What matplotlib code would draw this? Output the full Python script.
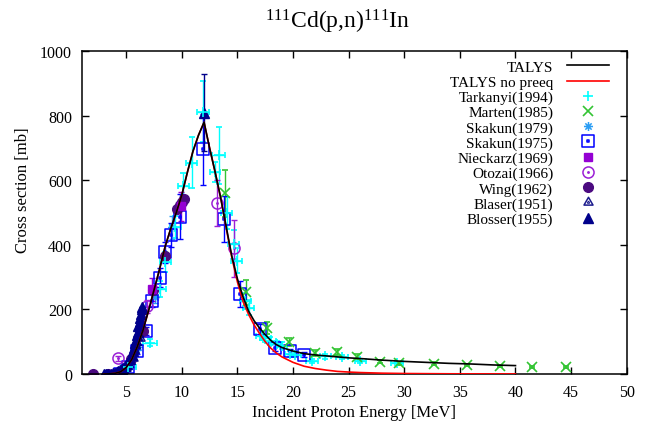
import matplotlib
matplotlib.use("Agg")
import matplotlib.pyplot as plt
from matplotlib.path import Path
import numpy as np

plt.rcParams['font.family'] = ['Liberation Serif', 'DejaVu Serif']
plt.rcParams['mathtext.fontset'] = 'custom'
plt.rcParams['mathtext.rm'] = 'Liberation Serif'
plt.rcParams['mathtext.it'] = 'Liberation Serif:italic'

# ---------------- data ----------------
talys_e = [3, 3.5, 4, 4.5, 5, 5.5, 6, 6.5, 7, 7.5, 8, 8.5, 9, 9.5, 10, 10.5, 11, 11.5, 12,
           12.5, 13, 13.5, 14, 14.5, 15, 15.5, 16, 16.5, 17, 17.5, 18, 18.5, 19, 20, 21, 22,
           23, 24, 25, 26, 28, 30, 32, 34, 36, 38, 40]
talys_xs = [0, 0.5, 2, 7, 20, 45, 85, 135, 195, 260, 325, 395, 450, 500, 555, 625, 690, 740, 780,
            700, 625, 545, 455, 365, 295, 240, 195, 165, 142, 122, 104, 91, 82, 71, 63, 59,
            56, 53, 50, 48, 43, 39, 36, 33, 31, 28, 26]
nopre_xs = [0, 0.5, 2, 7, 20, 45, 85, 135, 195, 260, 325, 395, 450, 500, 555, 625, 690, 740, 780,
            700, 625, 545, 450, 360, 285, 225, 185, 152, 125, 100, 80, 65, 53, 36, 24, 17,
            12, 8, 6, 4.5, 2.5, 1.5, 1.0, 0.6, 0.4, 0.3, 0.2]

tark_e = [5.2, 7.15, 8.05, 8.5, 9.4, 10.15, 10.9, 11.9, 13.0, 13.3, 14.05, 14.65, 14.95, 15.7,
          16.0, 17.2, 17.5, 17.95, 18.55, 19.0, 19.75, 20.2, 21.7, 22.9, 24.4, 26.05, 29.35]
tark_xs = [21, 97, 263, 347, 455, 583, 655, 813, 626, 678, 498, 402, 351, 227,
           206, 119, 110, 103, 93, 88, 62, 60, 41, 55, 52, 39, 33]
tark_de = [0.7, 0.65, 0.5, 0.5, 0.5, 0.5, 0.5, 0.5, 0.45, 0.6, 0.5, 0.5, 0.5, 0.5,
           0.5, 0.5, 0.5, 0.5, 0.5, 0.5, 0.5, 0.5, 0.5, 0.5, 0.5, 0.5, 0.5]
tark_dxs = [5, 10, 25, 30, 35, 40, 78, 95, 30, 88, 50, 45, 38, 25,
            22, 14, 12, 12, 10, 10, 8, 8, 6, 7, 6, 5, 5]

mart_e = [13.85, 15.75, 17.7, 19.6, 22.0, 23.95, 25.75, 27.85, 29.5, 32.65, 35.65, 38.65, 41.5, 44.5]
mart_xs = [560, 253, 142, 98, 66, 69, 54, 38, 33, 32, 28, 24, 23, 23]
mart_dxs = [73, 38, 18, 12, 9, 9, 7, 5, 5, 4, 4, 3, 3, 3]

sk79_e = [6.1, 7.6, 9.1]
sk79_xs = [83, 240, 454]
sk79_dxs = [8, 20, 35]

sk75_e = [4.4, 5.2, 6.0, 6.8, 7.3, 8.0, 8.5, 9.0, 9.8, 11.9, 13.75, 15.25, 17.05, 18.4, 19.7, 20.95]
sk75_xs = [0, 22, 70, 134, 227, 299, 377, 430, 488, 697, 480, 248, 139, 82, 70, 60]
sk75_dxs = [2, 5, 8, 12, 20, 28, 32, 38, 70, 110, 72, 39, 15, 10, 8, 7]

niec_e = [7.3, 9.9]
niec_xs = [262, 520]
niec_dxs = [36, 45]

otoz_e = [4.3, 6.85, 13.15, 14.65]
otoz_xs = [49, 210, 530, 390]
otoz_dxs = [8, 20, 70, 88]

wing_e = [2.0, 3.4, 5.4, 6.5, 7.45, 8.5, 9.55, 9.8, 10.0, 10.2]
wing_xs = [0, 0, 48, 134, 261, 366, 511, 523, 533, 542]

blas_e = [5.0, 5.6, 6.2]
blas_xs = [18, 50, 110]

blos_e = [3.0, 3.2, 3.4, 3.6, 3.8, 4.0, 4.15, 4.3, 4.45, 4.6, 4.75, 4.9, 5.05, 5.2, 5.35, 5.5,
          5.6, 5.7, 5.8, 5.9, 6.0, 6.05, 6.1, 6.2, 6.25, 6.32, 6.4, 6.45, 12.0]
blos_xs = [0, 0.5, 1, 1.5, 2, 4, 6, 9, 12, 15, 20, 26, 31, 37, 46, 60,
           70, 80, 95, 106, 120, 130, 148, 160, 172, 185, 200, 207, 810]
blos_dxs = [0] * 28 + [120]

labels = ['TALYS', 'TALYS no preeq', 'Tarkanyi(1994)', 'Marten(1985)', 'Skakun(1979)',
          'Skakun(1975)', 'Nieckarz(1969)', 'Otozai(1966)', 'Wing(1962)', 'Blaser(1951)',
          'Blosser(1955)']

# ---------------- markers ----------------
def dotted(outer, r=0.12):
    inner = Path(outer.vertices * r, outer.codes)
    return Path.make_compound_path(outer, inner)

sq = Path([(-1, -1), (1, -1), (1, 1), (-1, 1), (-1, -1)],
          [Path.MOVETO, Path.LINETO, Path.LINETO, Path.LINETO, Path.CLOSEPOLY])
tri = Path([(0, 1), (-0.866, -0.5), (0.866, -0.5), (0, 1)],
           [Path.MOVETO, Path.LINETO, Path.LINETO, Path.CLOSEPOLY])
circ = Path.unit_circle()
sq_dot = dotted(sq, 0.15)
tri_dot = dotted(tri, 0.2)
circ_dot = Path.make_compound_path(circ, Path.circle((0, 0), 0.12))
aster = Path([(-1, 0), (1, 0), (0, -1), (0, 1), (-0.7, -0.7), (0.7, 0.7), (-0.7, 0.7), (0.7, -0.7)],
             [Path.MOVETO, Path.LINETO] * 4)

c_tark = '#00ffff'
c_mart = '#33c433'
c_sk79 = '#2a9df4'
c_sk75 = '#0000ff'
c_niec = '#9400d3'
c_otoz = '#9b1fd6'
c_wing = '#4b0a80'
c_blas = '#1a1a8c'
c_blos = '#00008b'

fig = plt.figure(figsize=(6.46, 4.27), dpi=100)
ax = fig.add_axes([0.1265, 0.1218, 0.8436, 0.7557])

eb_kw = dict(elinewidth=1.0, capsize=2.5, capthick=1.0, linestyle='none')

h_tark = ax.errorbar(tark_e, tark_xs, xerr=tark_de, yerr=tark_dxs, fmt='+', color=c_tark,
                     ms=7, mew=1.2, **eb_kw)
h_mart = ax.errorbar(mart_e, mart_xs, yerr=mart_dxs, fmt='x', color=c_mart, ms=6.5, mew=1.2, **eb_kw)
h_sk79 = ax.errorbar(sk79_e, sk79_xs, yerr=sk79_dxs, fmt='none', ecolor=c_sk79, **eb_kw)
l_sk79, = ax.plot(sk79_e, sk79_xs, linestyle='none', marker=aster, ms=6.5, mew=1.1,
                  color=c_sk79, mfc='none')
h_niec = ax.errorbar(niec_e, niec_xs, yerr=niec_dxs, fmt='s', color=c_niec, ms=6, **eb_kw)
h_sk75 = ax.errorbar(sk75_e, sk75_xs, yerr=sk75_dxs, fmt='none', ecolor=c_sk75, **eb_kw)
l_sk75, = ax.plot(sk75_e, sk75_xs, linestyle='none', marker=sq_dot, ms=8, mew=1.1,
                  color=c_sk75, mfc='none')
h_otoz = ax.errorbar(otoz_e, otoz_xs, yerr=otoz_dxs, fmt='none', ecolor=c_otoz, **eb_kw)
l_otoz, = ax.plot(otoz_e, otoz_xs, linestyle='none', marker=circ_dot, ms=8, mew=1.1,
                  color=c_otoz, mfc='none')
l_wing, = ax.plot(wing_e, wing_xs, linestyle='none', marker='o', ms=7, color=c_wing)
l_blas, = ax.plot(blas_e, blas_xs, linestyle='none', marker=tri_dot, ms=7.5, mew=1.1,
                  color=c_blas, mfc='none')
h_blos = ax.errorbar(blos_e, blos_xs, yerr=blos_dxs, fmt='none', ecolor=c_blos, **eb_kw)
l_blos, = ax.plot(blos_e, blos_xs, linestyle='none', marker='^', ms=6.5, color=c_blos)

l_talys, = ax.plot(talys_e, talys_xs, color='black', lw=1.2, zorder=5)
l_nopre, = ax.plot(talys_e, nopre_xs, color='#ff0000', lw=1.2, zorder=4)

ax.set_xlim(1, 50)
ax.set_ylim(0, 1000)
ax.set_xticks(np.arange(5, 51, 5))
ax.set_yticks(np.arange(0, 1001, 200))
ax.tick_params(direction='in', length=5, width=1, top=True, right=True, labelsize=11.5, pad=7)
for s in ax.spines.values():
    s.set_linewidth(1.1)

ax.set_xlabel('Incident Proton Energy [MeV]', fontsize=12, labelpad=3)
fig.text(23 / 646, 1 - 190 / 427, 'Cross section [mb]', rotation=90, fontsize=12,
         ha='center', va='center')
fig.text(338 / 646, 1 - 22 / 427, r'$^{111}$Cd(p,n)$^{111}$In', fontsize=17,
         ha='center', va='center')

handles = [l_talys, l_nopre, h_tark[0], h_mart[0], l_sk79, l_sk75, h_niec[0], l_otoz,
           l_wing, l_blas, l_blos]
leg = ax.legend(handles, labels, loc='upper right', bbox_to_anchor=(0.9675, 0.9726),
                frameon=False, fontsize=11, markerfirst=False, numpoints=1,
                handlelength=2.75, handletextpad=0.9, labelspacing=0.09,
                borderpad=0, borderaxespad=0)
for col in leg._legend_handle_box.get_children():
    col.align = 'right'

fig.savefig('out.png', dpi=100)
